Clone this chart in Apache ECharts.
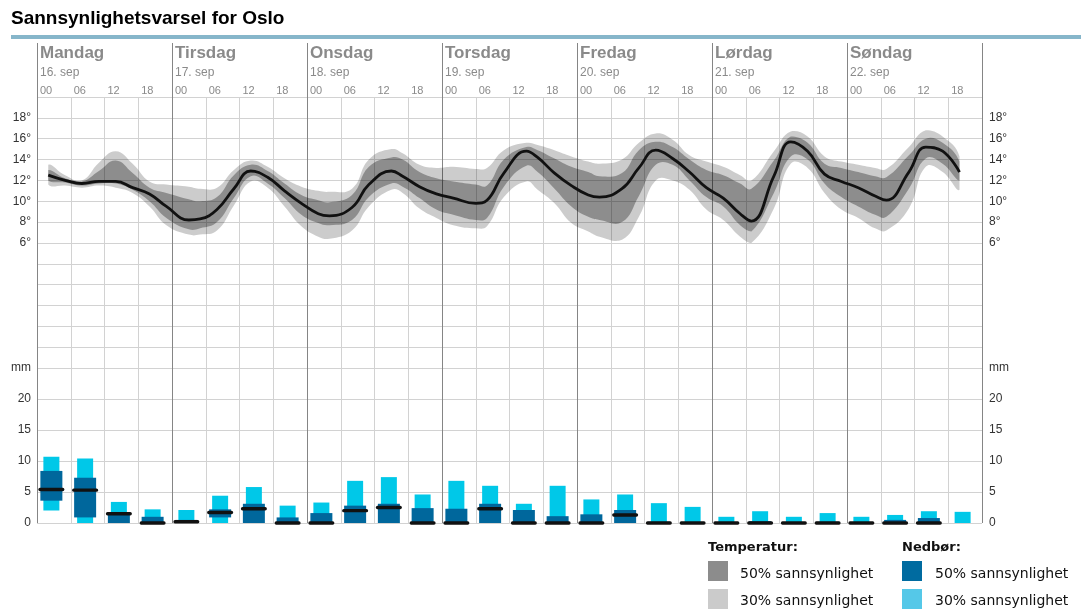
<!DOCTYPE html>
<html>
<head>
<meta charset="utf-8">
<title>Sannsynlighetsvarsel for Oslo</title>
<script src="https://cdn.jsdelivr.net/npm/echarts@6/dist/echarts.min.js"></script>
<style>
  html, body { margin: 0; padding: 0; background: #fff; }
  #chart { width: 1081px; height: 613px; }
</style>
</head>
<body>
<div id="chart"></div>
<script>
// ---- Labels ----
const days = ['Mandag', 'Tirsdag', 'Onsdag', 'Torsdag', 'Fredag', 'Lørdag', 'Søndag'];
const dates = ['16. sep', '17. sep', '18. sep', '19. sep', '20. sep', '21. sep', '22. sep'];
const hourLabels = ['00', '06', '12', '18'];
const tempTicks = [6, 8, 10, 12, 14, 16, 18];
const rainTicks = [0, 5, 10, 15, 20];

// ---- Temperature (hours from Monday 00:00, °C) ----
const tempHours = [2, 5, 8, 11, 14, 17, 20, 23, 27, 29, 32, 35, 38, 41, 44, 47, 50, 52, 56, 59,
  63, 65, 68, 71, 74, 78, 80, 83, 87, 89, 92, 95, 98, 100, 104, 107, 110, 113, 116, 119,
  122, 125, 127, 131, 134, 137, 140, 143, 146, 149, 151, 155, 158, 161, 164];
const tempMedian = [12.5, 12.0, 11.7, 11.9, 11.9, 11.3, 10.7, 9.5, 8.2, 8.3, 9.2, 11.2, 12.9, 12.3, 11.0, 9.8, 8.8, 8.6, 9.4, 11.6,
  12.9, 12.4, 11.4, 10.7, 10.3, 9.8, 10.1, 12.7, 14.8, 14.2, 12.7, 11.5, 10.6, 10.4, 11.2, 13.2, 14.9, 14.1, 12.8, 11.3,
  10.3, 8.8, 8.1, 12.4, 15.7, 14.8, 12.6, 11.9, 11.3, 10.5, 10.1, 12.8, 15.2, 14.8, 12.8];
const temp30High = [13.5, 12.5, 12.0, 13.7, 14.8, 13.6, 11.9, 11.6, 11.4, 11.2, 11.3, 13.0, 13.9, 13.3, 12.2, 11.4, 11.0, 10.9, 11.2, 14.0,
  15.0, 14.6, 13.5, 13.2, 13.3, 13.1, 13.2, 14.9, 15.6, 15.4, 14.9, 14.3, 13.8, 13.6, 14.0, 15.6, 16.5, 15.9, 14.4, 13.8,
  13.3, 12.5, 12.0, 14.8, 16.7, 16.2, 14.3, 13.8, 13.5, 13.2, 13.1, 15.2, 16.8, 16.2, 14.3];
const temp50High = [13.0, 12.2, 11.9, 12.9, 13.9, 12.7, 11.3, 10.8, 10.2, 10.0, 10.4, 12.5, 13.5, 12.9, 11.7, 10.6, 10.1, 9.9, 10.6, 13.3,
  14.2, 14.0, 12.8, 12.2, 11.9, 11.6, 11.5, 14.0, 15.2, 14.9, 14.1, 13.3, 12.8, 12.4, 12.7, 14.9, 15.7, 15.2, 14.0, 13.0,
  12.5, 11.7, 11.2, 13.9, 16.2, 15.6, 13.6, 13.2, 12.8, 12.4, 12.3, 14.4, 16.0, 15.6, 13.8];
const temp50Low = [12.0, 11.8, 11.5, 11.7, 11.7, 11.1, 10.0, 8.4, 7.3, 7.4, 8.0, 10.3, 12.4, 11.7, 10.3, 8.7, 7.9, 7.7, 8.2, 10.4,
  11.7, 11.4, 10.3, 9.2, 8.7, 8.2, 8.4, 11.4, 13.4, 12.8, 11.2, 9.5, 8.5, 8.2, 8.0, 10.5, 13.5, 13.5, 12.0, 10.4,
  9.5, 7.7, 7.1, 10.8, 14.3, 14.0, 11.7, 10.4, 9.5, 8.7, 8.5, 11.2, 14.1, 13.6, 12.0];
const temp30Low = [11.6, 11.5, 11.3, 11.5, 11.3, 10.8, 9.5, 7.7, 6.8, 6.8, 7.2, 9.6, 11.9, 11.3, 9.5, 7.6, 6.6, 6.4, 7.2, 9.5,
  11.1, 10.8, 9.3, 8.4, 7.7, 7.4, 7.6, 10.4, 11.9, 11.1, 9.8, 7.9, 7.1, 6.6, 6.3, 8.5, 12.0, 12.0, 11.1, 9.2,
  8.2, 6.6, 6.0, 9.3, 13.6, 13.2, 10.8, 9.2, 8.4, 7.4, 7.2, 9.3, 13.3, 12.8, 11.1];

// ---- Precipitation per 6-hour period (mm) ----
const rainSlots = [0, 6, 12, 18, 24, 30, 36, 42, 48, 54, 60, 66, 72, 78,
  84, 90, 96, 102, 108, 114, 120, 126, 132, 138, 144, 150, 156, 162];
const rain30High = [10.7, 10.4, 3.4, 2.2, 2.1, 4.4, 5.8, 2.8, 3.3, 6.8, 7.4, 4.6, 6.8, 6.0,
  3.1, 6.0, 3.8, 4.6, 3.2, 2.6, 1.0, 1.9, 1.0, 1.6, 1.0, 1.3, 1.9, 1.8];
const rain30Low = [2.0, 0, 0, 0, 0, 0, 0, 0, 0, 0, 0, 0, 0, 0,
  0, 0, 0, 0, 0, 0, 0, 0, 0, 0, 0, 0, 0, 0];
const rain50High = [8.4, 7.3, 1.7, 1.0, 0.5, 2.2, 3.1, 0.9, 1.6, 2.8, 3.1, 2.4, 2.3, 3.1,
  2.1, 1.1, 1.4, 2.1, 0.2, 0.1, 0.1, 0.3, 0.1, 0.2, 0.1, 0.5, 0.8, null];
const rain50Low = [3.6, 0.9, 0, 0, 0, 0.9, 0, 0, 0, 0, 0, 0, 0, 0,
  0, 0, 0, 0, 0, 0, 0, 0, 0, 0, 0, 0, 0, null];
const rainMedian = [5.4, 5.3, 1.5, 0, 0.2, 1.7, 2.3, 0, 0, 2.0, 2.5, 0, 0, 2.3,
  0, 0, 0, 1.3, 0, 0, 0, 0, 0, 0, 0, 0, 0, null];

// ---- Styling ----
const LIGHT_GRID = '#d2d2d2';
const DAY_LINE = '#858585';
const HEAD_GREY = '#8a8a8a';
const AXIS_TEXT = '#333';
const SANS = 'Liberation Sans, Arial, sans-serif';
const LEGEND_FONT = 'DejaVu Sans, Verdana, sans-serif';
const SMOOTH = 0.45;

const chart = echarts.init(document.getElementById('chart'), null, { renderer: 'canvas' });

// Band between a low and a high temperature curve, closed into one smooth polygon
function bandRenderer(lowArr, highArr, fill) {
  return function (params, api) {
    if (params.dataIndex !== 0) return null;
    const pts = [];
    for (let i = 0; i < tempHours.length; i++) pts.push(api.coord([tempHours[i], highArr[i]]));
    for (let i = tempHours.length - 1; i >= 0; i--) pts.push(api.coord([tempHours[i], lowArr[i]]));
    return {
      type: 'polygon',
      shape: {
        points: pts,
        smooth: SMOOTH,
        // keep the control points inside the band's own bounding box
        smoothConstraint: [[Infinity, Infinity], [-Infinity, -Infinity]]
      },
      style: { fill: fill }
    };
  };
}

// One precipitation column: 30% range, 50% range and the median tick
function rainRenderer(params, api) {
  const start = api.value(0);
  const cx = api.coord([start + 3, 0])[0] - 2.5;
  const lo30 = api.value(1), hi30 = api.value(2);
  const lo50 = api.value(3), hi50 = api.value(4), med = api.value(5);
  const children = [];
  const y = v => api.coord([start, v])[1];
  if (!isNaN(hi30)) {
    children.push({
      type: 'rect',
      shape: { x: cx - 8, y: y(hi30), width: 16, height: y(lo30) - y(hi30) },
      style: { fill: '#00c8e8' }
    });
  }
  if (!isNaN(hi50)) {
    children.push({
      type: 'rect',
      shape: { x: cx - 11, y: y(hi50), width: 22, height: Math.max(y(lo50) - y(hi50), 0.8) },
      style: { fill: '#00679c' }
    });
  }
  if (!isNaN(med)) {
    children.push({
      type: 'rect',
      shape: { x: cx - 13, y: y(med) - 1.7, width: 26, height: 3.4, r: 1.6 },
      style: { fill: '#111' }
    });
  }
  return { type: 'group', children: children };
}

const tempLabel = v => (tempTicks.indexOf(v) >= 0 ? v + '°' : '');
const rainLabel = v => (rainTicks.indexOf(v) >= 0 ? String(v) : (v === 25 ? 'mm' : ''));

const xBase = { type: 'value', min: 0, max: 168, axisLine: { show: false }, axisTick: { show: false } };

const option = {
  animation: false,
  backgroundColor: '#fff',
  title: {
    text: 'Sannsynlighetsvarsel for Oslo',
    left: 11,
    top: 9,
    padding: 0,
    textStyle: { fontFamily: SANS, fontWeight: 'bold', fontSize: 19, color: '#000' }
  },
  grid: [
    { left: 37, right: 99, top: 97, height: 271 },
    { left: 37, right: 99, top: 368, height: 155 },
    { left: 37, right: 99, top: 43, height: 54 }
  ],
  xAxis: [
    Object.assign({}, xBase, {
      gridIndex: 0, interval: 6, position: 'top',
      splitLine: { show: true, lineStyle: { color: LIGHT_GRID, width: 1 } },
      axisLabel: {
        show: true, margin: 1, align: 'left', padding: [0, 0, 0, 3],
        fontFamily: SANS, fontSize: 11, color: HEAD_GREY,
        formatter: v => (v >= 168 ? '' : hourLabels[(v % 24) / 6])
      }
    }),
    Object.assign({}, xBase, {
      gridIndex: 0, interval: 24, position: 'top', offset: 16,
      splitLine: { show: true, lineStyle: { color: DAY_LINE, width: 1 } },
      axisLabel: {
        show: true, margin: 2, align: 'left', padding: [0, 0, 0, 3],
        fontFamily: SANS, fontSize: 12, color: HEAD_GREY,
        formatter: v => (v >= 168 ? '' : dates[v / 24])
      }
    }),
    Object.assign({}, xBase, {
      gridIndex: 0, interval: 24, position: 'top', offset: 33,
      splitLine: { show: false },
      axisLabel: {
        show: true, margin: 2, align: 'left', padding: [0, 0, 0, 3],
        fontFamily: SANS, fontSize: 17, fontWeight: 'bold', color: HEAD_GREY,
        formatter: v => (v >= 168 ? '' : days[v / 24])
      }
    }),
    Object.assign({}, xBase, {
      gridIndex: 1, interval: 6,
      splitLine: { show: true, lineStyle: { color: LIGHT_GRID, width: 1 } },
      axisLabel: { show: false }
    }),
    Object.assign({}, xBase, {
      gridIndex: 1, interval: 24,
      splitLine: { show: true, lineStyle: { color: DAY_LINE, width: 1 } },
      axisLabel: { show: false }
    }),
    Object.assign({}, xBase, {
      gridIndex: 2, interval: 24,
      splitLine: { show: true, lineStyle: { color: DAY_LINE, width: 1 } },
      axisLabel: { show: false }
    })
  ],
  yAxis: [
    {
      type: 'value', gridIndex: 0, min: -6, max: 20, interval: 2, position: 'left',
      axisLine: { show: false }, axisTick: { show: false },
      splitLine: { show: true, lineStyle: { color: LIGHT_GRID, width: 1 } },
      axisLabel: { margin: 6, fontFamily: SANS, fontSize: 12, color: AXIS_TEXT, formatter: tempLabel }
    },
    {
      type: 'value', gridIndex: 0, min: -6, max: 20, interval: 2, position: 'right',
      axisLine: { show: false }, axisTick: { show: false }, splitLine: { show: false },
      axisLabel: { margin: 7, fontFamily: SANS, fontSize: 12, color: AXIS_TEXT, formatter: tempLabel }
    },
    {
      type: 'value', gridIndex: 1, min: 0, max: 25, interval: 5, position: 'left',
      axisLine: { show: false }, axisTick: { show: false },
      splitLine: { show: true, lineStyle: { color: LIGHT_GRID, width: 1 } },
      axisLabel: { margin: 6, fontFamily: SANS, fontSize: 12, color: AXIS_TEXT, formatter: rainLabel }
    },
    {
      type: 'value', gridIndex: 1, min: 0, max: 25, interval: 5, position: 'right',
      axisLine: { show: false }, axisTick: { show: false }, splitLine: { show: false },
      axisLabel: { margin: 7, fontFamily: SANS, fontSize: 12, color: AXIS_TEXT, formatter: rainLabel }
    },
    { type: 'value', gridIndex: 2, show: false, min: 0, max: 1 }
  ],
  series: [
    {
      name: 'Temperatur 30%',
      type: 'custom',
      xAxisIndex: 0, yAxisIndex: 0,
      renderItem: bandRenderer(temp30Low, temp30High, 'rgba(0,0,0,0.2)'),
      data: tempHours.map((h, i) => [h, temp30Low[i], temp30High[i]]),
      encode: { x: 0, y: [1, 2] },
      silent: true, z: 2
    },
    {
      name: 'Temperatur 50%',
      type: 'custom',
      xAxisIndex: 0, yAxisIndex: 0,
      renderItem: bandRenderer(temp50Low, temp50High, 'rgba(0,0,0,0.31)'),
      data: tempHours.map((h, i) => [h, temp50Low[i], temp50High[i]]),
      encode: { x: 0, y: [1, 2] },
      silent: true, z: 3
    },
    {
      name: 'Temperatur',
      type: 'line',
      xAxisIndex: 0, yAxisIndex: 0,
      data: tempHours.map((h, i) => [h, tempMedian[i]]),
      smooth: SMOOTH,
      showSymbol: false,
      lineStyle: { color: '#111', width: 2.8 },
      silent: true, z: 4
    },
    {
      name: 'Nedbør',
      type: 'custom',
      xAxisIndex: 3, yAxisIndex: 2,
      renderItem: rainRenderer,
      data: rainSlots.map((s, i) => [s, rain30Low[i], rain30High[i],
        rain50Low[i] == null ? NaN : rain50Low[i],
        rain50High[i] == null ? NaN : rain50High[i],
        rainMedian[i] == null ? NaN : rainMedian[i]]),
      encode: { x: 0, y: [1, 2] },
      silent: true, z: 3
    }
  ],
  graphic: [
    { type: 'rect', left: 11, top: 35, shape: { width: 1070, height: 4 }, style: { fill: '#86b6ca' } },
    { type: 'text', x: 708, y: 548, style: { text: 'Temperatur:', font: 'bold 13px ' + LEGEND_FONT, fill: '#111', verticalAlign: 'middle' } },
    { type: 'rect', shape: { x: 708, y: 561, width: 20, height: 20 }, style: { fill: '#8c8c8c' } },
    { type: 'text', x: 740, y: 574, style: { text: '50% sannsynlighet', font: '14px ' + LEGEND_FONT, fill: '#111', verticalAlign: 'middle' } },
    { type: 'rect', shape: { x: 708, y: 589, width: 20, height: 20 }, style: { fill: '#cbcbcb' } },
    { type: 'text', x: 740, y: 601, style: { text: '30% sannsynlighet', font: '14px ' + LEGEND_FONT, fill: '#111', verticalAlign: 'middle' } },
    { type: 'text', x: 902, y: 548, style: { text: 'Nedbør:', font: 'bold 13px ' + LEGEND_FONT, fill: '#111', verticalAlign: 'middle' } },
    { type: 'rect', shape: { x: 902, y: 561, width: 20, height: 20 }, style: { fill: '#006ba0' } },
    { type: 'text', x: 935, y: 574, style: { text: '50% sannsynlighet', font: '14px ' + LEGEND_FONT, fill: '#111', verticalAlign: 'middle' } },
    { type: 'rect', shape: { x: 902, y: 589, width: 20, height: 20 }, style: { fill: '#55c8e8' } },
    { type: 'text', x: 935, y: 601, style: { text: '30% sannsynlighet', font: '14px ' + LEGEND_FONT, fill: '#111', verticalAlign: 'middle' } }
  ]
};

chart.setOption(option);
</script>
</body>
</html>
